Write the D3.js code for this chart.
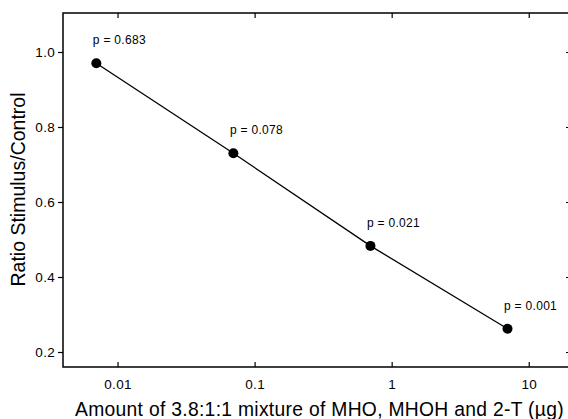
<!DOCTYPE html>
<html>
<head>
<meta charset="utf-8">
<script src="https://cdn.jsdelivr.net/npm/d3@7"></script>
<style>
  html, body { margin: 0; padding: 0; background: #fff; }
  svg { display: block; }
  text { font-family: "Liberation Sans", Arial, Helvetica, sans-serif; fill: #000; }
</style>
</head>
<body>
<svg id="chart" width="568" height="419"></svg>
<script>
// ---- data ----
const doses = [0.007, 0.07, 0.7, 7];
const ratios = [0.97, 0.73, 0.483, 0.262];
const pLabels = ["p = 0.683", "p = 0.078", "p = 0.021", "p = 0.001"];
const xTicks = [0.01, 0.1, 1, 10];
const xTickLabels = ["0.01", "0.1", "1", "10"];
const yTicks = [0.2, 0.4, 0.6, 0.8, 1.0];
const yTickLabels = ["0.2", "0.4", "0.6", "0.8", "1.0"];
const xTitle = "Amount of 3.8:1:1 mixture of MHO, MHOH and 2-T (\u00b5g)";
const yTitle = "Ratio Stimulus/Control";

// ---- layout ----
const svg = d3.select("#chart");
const mLeft = 63, mRight = 570, mTop = 13, mBottom = 367;

const x = d3.scaleLog().domain([0.004, 20]).range([mLeft, mRight]);
const y = d3.scaleLinear().domain([0.16, 1.104]).range([mBottom, mTop]);

// frame
svg.append("rect")
  .attr("x", mLeft).attr("y", mTop)
  .attr("width", mRight - mLeft).attr("height", mBottom - mTop)
  .attr("fill", "none").attr("stroke", "#000").attr("stroke-width", 1.5);

// bottom axis: inward ticks
const xAxis = d3.axisBottom(x).tickValues(xTicks)
  .tickFormat((d, i) => xTickLabels[i]).tickSizeInner(-5).tickSizeOuter(0).tickPadding(12);
const gx = svg.append("g").attr("transform", `translate(0,${mBottom})`).call(xAxis);
gx.select(".domain").remove();
gx.selectAll("line").attr("stroke", "#000").attr("stroke-width", 1.2);
gx.selectAll("text").attr("font-size", 13.5).attr("letter-spacing", 0.3)
  .attr("font-family", "'Liberation Sans', Arial, sans-serif");

// top axis: inward ticks, no labels
const gxt = svg.append("g").attr("transform", `translate(0,${mTop})`)
  .call(d3.axisTop(x).tickValues(xTicks).tickFormat("").tickSizeInner(-5).tickSizeOuter(0));
gxt.select(".domain").remove();
gxt.selectAll("line").attr("stroke", "#000").attr("stroke-width", 1.2);

// left axis: outward ticks
const yAxis = d3.axisLeft(y).tickValues(yTicks)
  .tickFormat((d, i) => yTickLabels[i]).tickSizeInner(5).tickSizeOuter(0).tickPadding(3);
const gy = svg.append("g").attr("transform", `translate(${mLeft},0)`).call(yAxis);
gy.select(".domain").remove();
gy.selectAll("line").attr("stroke", "#000").attr("stroke-width", 1.2);
gy.selectAll("text").attr("font-size", 13.5).attr("letter-spacing", 0.3)
  .attr("font-family", "'Liberation Sans', Arial, sans-serif");

// right axis: inward ticks
const gyr = svg.append("g").attr("transform", `translate(${mRight},0)`)
  .call(d3.axisRight(y).tickValues(yTicks).tickFormat("").tickSizeInner(-4).tickSizeOuter(0));
gyr.select(".domain").remove();
gyr.selectAll("line").attr("stroke", "#000").attr("stroke-width", 1.2);

// data line
const pts = doses.map((d, i) => [d, ratios[i]]);
svg.append("path")
  .datum(pts)
  .attr("d", d3.line().x(d => x(d[0])).y(d => y(d[1])))
  .attr("fill", "none").attr("stroke", "#000").attr("stroke-width", 1.3);

// points
svg.append("g").selectAll("circle").data(pts).join("circle")
  .attr("cx", d => x(d[0])).attr("cy", d => y(d[1])).attr("r", 5)
  .attr("fill", "#000");

// p labels
svg.append("g").selectAll("text").data(pts).join("text")
  .attr("x", d => x(d[0]) - 3.5).attr("y", d => y(d[1]) - 19)
  .attr("font-size", 12).attr("letter-spacing", 0.3)
  .text((d, i) => pLabels[i]);

// axis titles
svg.append("text")
  .attr("x", 319.5).attr("y", 416)
  .attr("text-anchor", "middle").attr("font-size", 19.3).attr("letter-spacing", 0.3)
  .text(xTitle);

svg.append("text")
  .attr("transform", `translate(25,${189.5}) rotate(-90)`)
  .attr("text-anchor", "middle").attr("font-size", 19.5)
  .text(yTitle);
</script>
</body>
</html>
